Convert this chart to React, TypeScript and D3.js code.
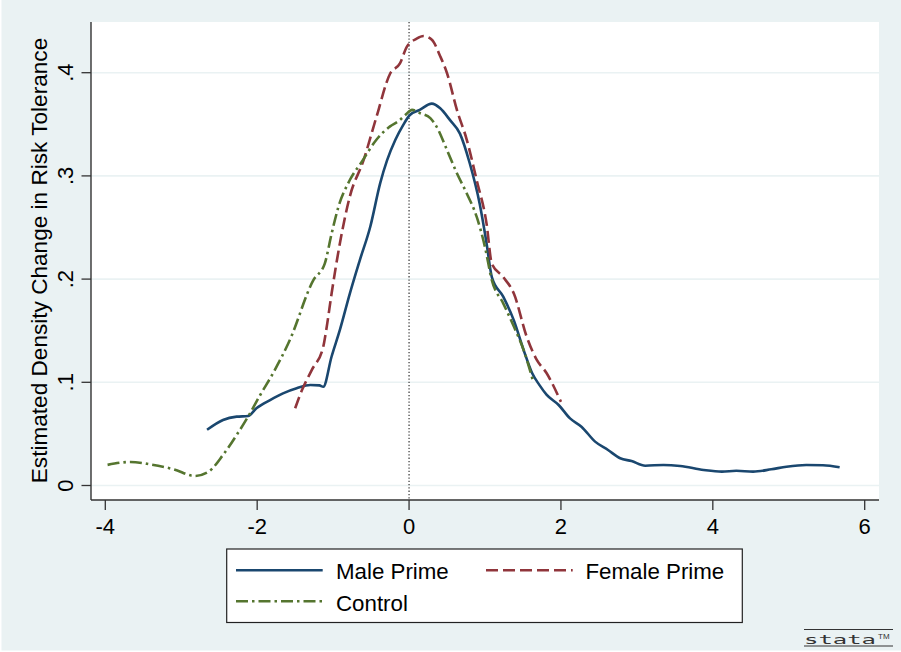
import React from "react";
import * as d3 from "d3";

const maleX = [-2.66, -2.45, -2.27, -2.12, -2.01, -1.83, -1.66, -1.48, -1.30, -1.18, -1.13, -1.02, -0.91, -0.78, -0.65, -0.51, -0.38, -0.29, -0.18, -0.08, 0.01, 0.14, 0.30, 0.41, 0.54, 0.67, 0.80, 0.93, 1.02, 1.09, 1.24, 1.38, 1.51, 1.62, 1.72, 1.81, 1.97, 2.12, 2.27, 2.45, 2.62, 2.78, 2.93, 3.11, 3.35, 3.57, 3.88, 4.12, 4.31, 4.53, 4.77, 4.97, 5.23, 5.45, 5.67];
const maleY = [0.054, 0.0635, 0.0667, 0.0673, 0.0748, 0.0828, 0.0893, 0.0942, 0.0974, 0.097, 0.0957, 0.125, 0.151, 0.186, 0.218, 0.251, 0.293, 0.315, 0.335, 0.349, 0.359, 0.364, 0.370, 0.3655, 0.354, 0.341, 0.312, 0.273, 0.235, 0.202, 0.183, 0.160, 0.131, 0.109, 0.097, 0.088, 0.078, 0.065, 0.057, 0.0425, 0.0344, 0.0264, 0.0237, 0.0192, 0.0199, 0.0189, 0.015, 0.0134, 0.0143, 0.0134, 0.0157, 0.0182, 0.0199, 0.0196, 0.0176];

const femaleX = [-1.50, -1.41, -1.28, -1.13, -1.09, -1.02, -0.91, -0.78, -0.60, -0.43, -0.25, -0.12, -0.03, 0.10, 0.19, 0.30, 0.41, 0.50, 0.63, 0.76, 0.89, 1.02, 1.09, 1.24, 1.38, 1.55, 1.68, 1.81, 2.0];
const femaleY = [0.0748, 0.0925, 0.112, 0.1345, 0.151, 0.186, 0.235, 0.280, 0.315, 0.357, 0.399, 0.409, 0.425, 0.433, 0.4355, 0.432, 0.416, 0.3995, 0.364, 0.335, 0.296, 0.254, 0.215, 0.202, 0.186, 0.144, 0.122, 0.109, 0.081];

const controlX = [-3.97, -3.67, -3.41, -3.10, -2.82, -2.64, -2.45, -2.27, -2.12, -1.96, -1.79, -1.57, -1.26, -1.11, -1.02, -0.93, -0.78, -0.62, -0.43, -0.25, -0.14, -0.05, 0.04, 0.14, 0.28, 0.36, 0.50, 0.63, 0.76, 0.89, 1.00, 1.09, 1.24, 1.38, 1.51, 1.63];
const controlY = [0.020, 0.0228, 0.0205, 0.0157, 0.0092, 0.0134, 0.0296, 0.049, 0.0667, 0.0877, 0.109, 0.141, 0.199, 0.215, 0.244, 0.270, 0.296, 0.314, 0.335, 0.348, 0.353, 0.359, 0.364, 0.361, 0.356, 0.348, 0.325, 0.3025, 0.283, 0.2605, 0.231, 0.199, 0.1765, 0.154, 0.131, 0.102];

const xTicks = [-4, -2, 0, 2, 4, 6];
const xTickLabels = ["-4", "-2", "0", "2", "4", "6"];
const yTicks = [0, 0.1, 0.2, 0.3, 0.4];
const yTickLabels = ["0", ".1", ".2", ".3", ".4"];

const seriesNames = ["Male Prime", "Female Prime", "Control"];
const yTitle = "Estimated Density Change in Risk Tolerance";

const W = 901;
const H = 652;
const FONT = "'Liberation Sans', Arial, Helvetica, sans-serif";
const BG = "#EAF2F3";
const NAVY = "#1A476F";
const MAROON = "#90353B";
const GREEN = "#55752F";

export default function App() {
  const x = d3.scaleLinear().domain([-4, 6]).range([105.3, 864.7]);
  const y = d3.scaleLinear().domain([0, 0.4]).range([485.5, 72.7]);
  const plotL = 91, plotR = 879, plotT = 22, plotB = 500;

  const line = d3
    .line<[number, number]>()
    .x((d) => x(d[0]))
    .y((d) => y(d[1]))
    .curve(d3.curveMonotoneX);

  const zip = (a: number[], b: number[]) => a.map((v, i) => [v, b[i]] as [number, number]);

  const series = [
    { name: seriesNames[0], data: zip(maleX, maleY), color: NAVY, dash: "none" },
    { name: seriesNames[1], data: zip(femaleX, femaleY), color: MAROON, dash: "12,5" },
    { name: seriesNames[2], data: zip(controlX, controlY), color: GREEN, dash: "12,4,2.5,4" },
  ];

  const legendItems = [
    { ...series[0], lx: 236, ly: 570.3, tx: 336, ty: 578.5 },
    { ...series[1], lx: 486, ly: 570.3, tx: 585.5, ty: 578.5 },
    { ...series[2], lx: 236, ly: 601.3, tx: 336, ty: 610.5 },
  ];

  return (
    <svg
      width={W}
      height={H}
      style={{ position: "absolute", left: 0, top: 0, display: "block" }}
      fontFamily={FONT}
    >
      <rect x={0} y={0} width={W} height={H} fill="#FFFFFF" />
      <rect x={1.5} y={0} width={W - 1.5} height={H - 1.5} fill={BG} />
      <rect x={plotL} y={plotT} width={plotR - plotL} height={plotB - plotT} fill="#FFFFFF" />

      {yTicks.map((t) => (
        <line key={"g" + t} x1={plotL} x2={plotR} y1={y(t)} y2={y(t)} stroke={BG} strokeWidth={1.6} />
      ))}

      <line x1={x(0)} x2={x(0)} y1={plotT} y2={plotB} stroke="#444" strokeWidth={1.3} strokeDasharray="1.3,2" />

      {series.map((s) => (
        <path
          key={s.name}
          d={line(s.data) || ""}
          fill="none"
          stroke={s.color}
          strokeWidth={2.6}
          strokeDasharray={s.dash}
          strokeLinejoin="round"
        />
      ))}

      <line x1={plotL} x2={plotL} y1={plotT} y2={plotB} stroke="#333" strokeWidth={1.4} />
      <line x1={plotL} x2={plotR} y1={plotB} y2={plotB} stroke="#333" strokeWidth={1.4} />

      {yTicks.map((t, i) => (
        <g key={"yt" + t}>
          <line x1={81.5} x2={plotL} y1={y(t)} y2={y(t)} stroke="#333" strokeWidth={1.3} />
          <text
            transform={`translate(73,${y(t)}) rotate(-90)`}
            textAnchor="middle"
            fontSize={22}
            fill="#000"
          >
            {yTickLabels[i]}
          </text>
        </g>
      ))}

      {xTicks.map((t, i) => (
        <g key={"xt" + t}>
          <line x1={x(t)} x2={x(t)} y1={plotB} y2={510} stroke="#333" strokeWidth={1.3} />
          <text x={x(t)} y={534} textAnchor="middle" fontSize={22} fill="#000">
            {xTickLabels[i]}
          </text>
        </g>
      ))}

      <text
        transform={`translate(46.5,260.5) rotate(-90)`}
        textAnchor="middle"
        fontSize={22.6}
        fill="#000"
      >
        {yTitle}
      </text>

      <rect x={226.7} y={549} width={515.6} height={73.5} fill="#FFFFFF" stroke="#222" strokeWidth={1.2} />
      {legendItems.map((it) => (
        <g key={"lg" + it.name}>
          <line
            x1={it.lx}
            x2={it.lx + 86.7}
            y1={it.ly}
            y2={it.ly}
            stroke={it.color}
            strokeWidth={2.6}
            strokeDasharray={it.dash}
          />
          <text x={it.tx} y={it.ty} fontSize={22.3} fill="#000">
            {it.name}
          </text>
        </g>
      ))}

      <g>
        <line x1={804} x2={893} y1={629.5} y2={629.5} stroke="#333" strokeWidth={1} />
        <line x1={804} x2={893} y1={646} y2={646} stroke="#333" strokeWidth={1} />
        <text x={804} y={644} fontSize={13} fill="#333" fontFamily="'DejaVu Sans Mono', monospace" textLength={72} lengthAdjust="spacingAndGlyphs">
          stata
        </text>
        <text x={878} y={638.5} fontSize={8} fill="#333" fontFamily={FONT}>
          TM
        </text>
      </g>
    </svg>
  );
}
